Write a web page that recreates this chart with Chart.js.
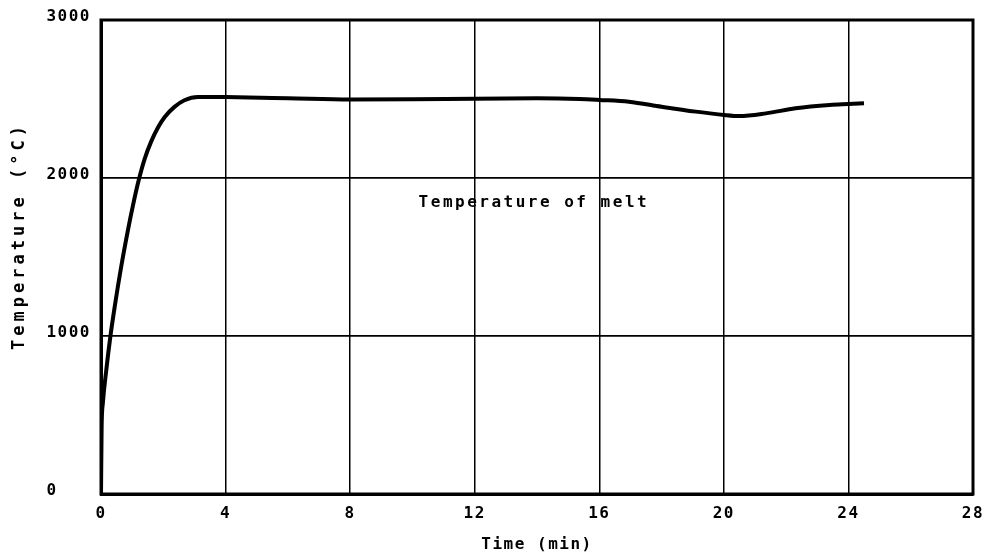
<!DOCTYPE html>
<html>
<head>
<meta charset="utf-8">
<script src="https://cdn.jsdelivr.net/npm/chart.js@4.4.1/dist/chart.umd.min.js"></script>
<style>
    html, body { margin: 0; padding: 0; background: #fff; }
    #wrap { width: 993px; height: 560px; }
</style>
</head>
<body>
<div id="wrap"><canvas id="meltChart" width="993" height="560"></canvas></div>
<script>
// time (min) vs temperature (deg C)
const times = [0, 0.02, 0.06, 0.17, 0.30, 0.44, 0.65, 0.87, 1.03, 1.19, 1.40, 1.62, 1.83, 2.04, 2.36, 2.68, 3.11, 4.0, 6, 8, 10, 12, 14, 15.35, 16, 16.95, 18, 19.1, 20, 20.5, 21.35, 22.3, 23.4, 24, 24.5];
const temps = [0, 420, 576, 785, 996, 1185, 1440, 1675, 1830, 1970, 2120, 2235, 2320, 2385, 2450, 2492, 2513, 2512, 2505, 2497, 2498, 2502, 2504, 2500, 2494, 2483, 2451, 2420, 2399, 2392, 2409, 2441, 2462, 2468, 2473];

const xTicks = [0, 4, 8, 12, 16, 20, 24, 28];
const yTicks = [0, 1000, 2000, 3000];

const meltLabel = 'Temperature of melt';
const meltLabelAt = { x: 13.9, y: 1840 };
const yTitle = 'Temperature (°C)';

const FONT = "'DejaVu Sans Mono', 'Liberation Mono', monospace";

const framePlugin = {
    id: 'frame',
    beforeDraw(chart) {
        chart.ctx.letterSpacing = '1.5px';
    },
    afterDraw(chart) {
        const ctx = chart.ctx;
        const a = chart.chartArea;
        ctx.save();
        ctx.strokeStyle = '#000';
        ctx.lineWidth = 3;
        ctx.strokeRect(a.left, a.top, a.right - a.left, a.bottom - a.top);

        const xs = chart.scales.x, ys = chart.scales.y;
        ctx.fillStyle = '#000';
        ctx.textAlign = 'center';
        ctx.textBaseline = 'middle';

        // label under the melt line
        ctx.letterSpacing = '2.5px';
        ctx.font = "bold 16px " + FONT;
        ctx.fillText(meltLabel, xs.getPixelForValue(meltLabelAt.x), ys.getPixelForValue(meltLabelAt.y));

        // y axis title
        ctx.letterSpacing = '4px';
        ctx.font = "bold 17px " + FONT;
        ctx.translate(20, 236);
        ctx.rotate(-Math.PI / 2);
        ctx.fillText(yTitle, 0, 0);
        ctx.restore();
    }
};

const points = times.map((t, i) => ({ x: t, y: temps[i] }));

new Chart(document.getElementById('meltChart'), {
    type: 'line',
    data: {
        datasets: [{
            data: points,
            borderColor: '#000',
            borderWidth: 4,
            pointRadius: 0,
            fill: false,
            cubicInterpolationMode: 'monotone'
        }]
    },
    options: {
        responsive: false,
        animation: false,
        events: [],
        layout: { padding: { top: 20, right: 20, left: 0, bottom: 0 } },
        plugins: {
            legend: { display: false },
            tooltip: { enabled: false }
        },
        scales: {
            x: {
                type: 'linear',
                min: 0,
                max: 28,
                afterBuildTicks(scale) { scale.ticks = xTicks.map(v => ({ value: v })); },
                afterFit(scale) { scale.height = 66; },
                grid: { color: '#000', lineWidth: 1.5, drawTicks: false },
                border: { color: '#000', width: 3 },
                ticks: {
                    color: '#000',
                    padding: 10,
                    font: { family: FONT, size: 16, weight: 'bold' }
                },
                title: {
                    display: true,
                    text: 'Time (min)',
                    color: '#000',
                    align: 'center',
                    padding: { bottom: 6 },
                    font: { family: FONT, size: 16, weight: 'bold' }
                }
            },
            y: {
                type: 'linear',
                min: 0,
                max: 3000,
                afterBuildTicks(scale) { scale.ticks = yTicks.map(v => ({ value: v })); },
                afterFit(scale) { scale.width = 101; },
                grid: { color: '#000', lineWidth: 1.8, drawTicks: false },
                border: { color: '#000', width: 3 },
                ticks: {
                    color: '#000',
                    padding: 10,
                    labelOffset: -3,
                    font: { family: FONT, size: 16, weight: 'bold' },
                    callback: v => String(v).padEnd(4, ' ')
                },
                title: { display: false }
            }
        }
    },
    plugins: [framePlugin]
});
</script>
</body>
</html>
